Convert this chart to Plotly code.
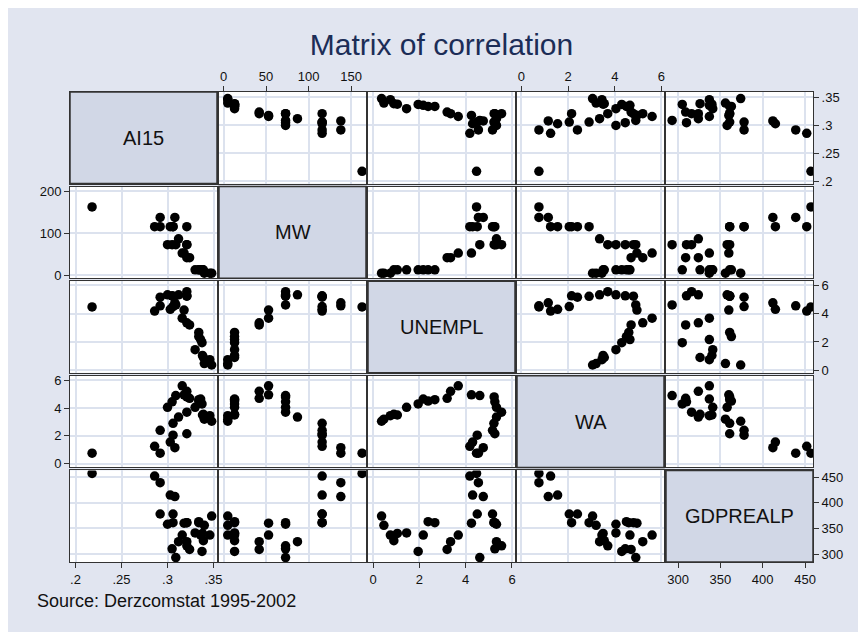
import plotly.graph_objects as go
from plotly.subplots import make_subplots

# ---- data ----
variables = ["AI15", "MW", "UNEMPL", "WA", "GDPREALP"]

ai15 = [0.348, 0.340, 0.346, 0.339, 0.338, 0.330, 0.3375, 0.336, 0.334, 0.334,
        0.324, 0.321, 0.316, 0.318, 0.309, 0.321, 0.305, 0.300, 0.321, 0.312,
        0.306, 0.292, 0.321, 0.306, 0.286, 0.303, 0.308, 0.218, 0.292]
mw = [5, 5, 5, 13, 13, 13, 13, 13, 13, 13,
      42, 42, 53, 53, 73, 73, 73, 73, 73, 87,
      116, 116, 116, 116, 116, 116, 138, 163, 138]
unempl = [0.37, 0.47, 0.75, 0.90, 1.05, 1.45, 1.95, 2.17, 2.38, 2.67,
          3.20, 3.35, 3.68, 4.25, 4.61, 5.23, 5.26, 5.33, 5.55, 5.33,
          5.22, 5.16, 5.26, 4.50, 4.18, 4.30, 4.76, 4.47, 4.55]
wa = [3.05, 3.20, 3.45, 3.55, 3.50, 4.05, 4.30, 4.65, 4.50, 4.60,
      4.70, 5.20, 5.60, 4.95, 4.90, 4.80, 4.45, 4.05, 3.70, 3.35,
      2.90, 2.40, 2.15, 2.05, 1.25, 1.55, 1.15, 0.75, 0.75]
gdprealp = [374, 356, 337, 326, 340, 341, 305, 337, 363, 361,
            309, 324, 337, 360, 293, 361, 310, 358, 316, 324,
            361, 378, 361, 378, 452, 415, 412, 457, 439]

series = [ai15, mw, unempl, wa, gdprealp]

# tick values / labels for each variable (x = column axis, y = row axis)
ai15_ticks = [0.2, 0.25, 0.3, 0.35]
ai15_labels = [".2", ".25", ".3", ".35"]
mw_xticks = [0, 50, 100, 150]
mw_yticks = [0, 100, 200]
unempl_ticks = [0, 2, 4, 6]
wa_ticks = [0, 2, 4, 6]
gdp_ticks = [300, 350, 400, 450]

x_ticks = [(ai15_ticks, ai15_labels),
           (mw_xticks, [str(v) for v in mw_xticks]),
           (unempl_ticks, [str(v) for v in unempl_ticks]),
           (wa_ticks, [str(v) for v in wa_ticks]),
           (gdp_ticks, [str(v) for v in gdp_ticks])]
y_ticks = [(ai15_ticks, ai15_labels),
           (mw_yticks, [str(v) for v in mw_yticks]),
           (unempl_ticks, [str(v) for v in unempl_ticks]),
           (wa_ticks, [str(v) for v in wa_ticks]),
           (gdp_ticks, [str(v) for v in gdp_ticks])]

x_ranges = [[0.194, 0.3538], [-5.3, 167.6], [-0.216, 6.13], [-0.19, 6.11], [285.8, 459.4]]
y_ranges = [[0.196, 0.3598], [-6.9, 211.4], [-0.18, 6.29], [-0.27, 6.32], [284.4, 463.0]]

# ---- style ----
BG = "#e1e5f0"
DIAG = "#d1d7e6"
GRID = "#dce2ee"
FRAME = "#333333"
FONT = "Liberation Sans, Arial, sans-serif"

N = 5
fig = make_subplots(rows=N, cols=N,
                    horizontal_spacing=2 / 743, vertical_spacing=3 / 470)

for r in range(N):
    for c in range(N):
        if r != c:
            fig.add_trace(go.Scatter(
                x=series[c], y=series[r], mode="markers",
                marker=dict(color="black", size=9.5),
                showlegend=False, hoverinfo="x+y"),
                row=r + 1, col=c + 1)
        else:
            # invisible anchor trace so the diagonal subplot is drawn
            fig.add_trace(go.Scatter(
                x=[sum(x_ranges[c]) / 2], y=[sum(y_ranges[r]) / 2], mode="markers",
                marker=dict(color="rgba(0,0,0,0)", size=1),
                showlegend=False, hoverinfo="skip"),
                row=r + 1, col=c + 1)

for r in range(N):
    for c in range(N):
        xlab_bottom = (c in (0, 2, 4)) and r == N - 1
        xlab_top = (c in (1, 3)) and r == 0
        xshow = xlab_bottom or xlab_top
        fig.update_xaxes(
            row=r + 1, col=c + 1,
            range=x_ranges[c], tickvals=x_ticks[c][0], ticktext=x_ticks[c][1],
            showgrid=(r != c), gridcolor=GRID, gridwidth=2,
            zeroline=False, showline=True, mirror=True,
            linecolor=FRAME, linewidth=1,
            showticklabels=xshow, ticks="outside" if xshow else "",
            ticklen=5, tickcolor=FRAME,
            side="top" if xlab_top else "bottom",
            tickfont=dict(family=FONT, size=13, color="#111111"),
        )
        ylab_left = (r in (1, 3)) and c == 0
        ylab_right = (r in (0, 2, 4)) and c == N - 1
        yshow = ylab_left or ylab_right
        fig.update_yaxes(
            row=r + 1, col=c + 1,
            range=y_ranges[r], tickvals=y_ticks[r][0], ticktext=y_ticks[r][1],
            showgrid=(r != c), gridcolor=GRID, gridwidth=2,
            zeroline=False, showline=True, mirror=True,
            linecolor=FRAME, linewidth=1,
            showticklabels=yshow, ticks="outside" if yshow else "",
            ticklen=5, tickcolor=FRAME,
            side="right" if ylab_right else "left",
            tickfont=dict(family=FONT, size=13, color="#111111"),
        )

# diagonal cells: filled boxes with variable names
for i, name in enumerate(variables):
    n = i * N + i + 1
    suffix = "" if n == 1 else str(n)
    fig.add_shape(type="rect", xref=f"x{suffix} domain", yref=f"y{suffix} domain",
                  x0=0, x1=1, y0=0, y1=1, fillcolor=DIAG,
                  line=dict(color=FRAME, width=1.5), layer="above")
    fig.add_annotation(xref=f"x{suffix} domain", yref=f"y{suffix} domain",
                       x=0.5, y=0.5, text=name, showarrow=False,
                       font=dict(family=FONT, size=20, color="#111111"))

fig.add_annotation(xref="paper", yref="paper", x=-35 / 743, y=-39 / 470,
                   xanchor="left", yanchor="middle", showarrow=False,
                   text="Source: Derzcomstat 1995-2002",
                   font=dict(family=FONT, size=18, color="#111111"))

fig.update_layout(
    width=866, height=632,
    margin=dict(l=62, r=61, t=84, b=78),
    paper_bgcolor=BG, plot_bgcolor="white",
    title=dict(text="Matrix of correlation", x=0.5, xref="paper",
               y=1 - 36 / 632, yanchor="middle",
               font=dict(family=FONT, size=30, color="#1c2d57")),
    showlegend=False,
)

fig.write_html("out.html")
